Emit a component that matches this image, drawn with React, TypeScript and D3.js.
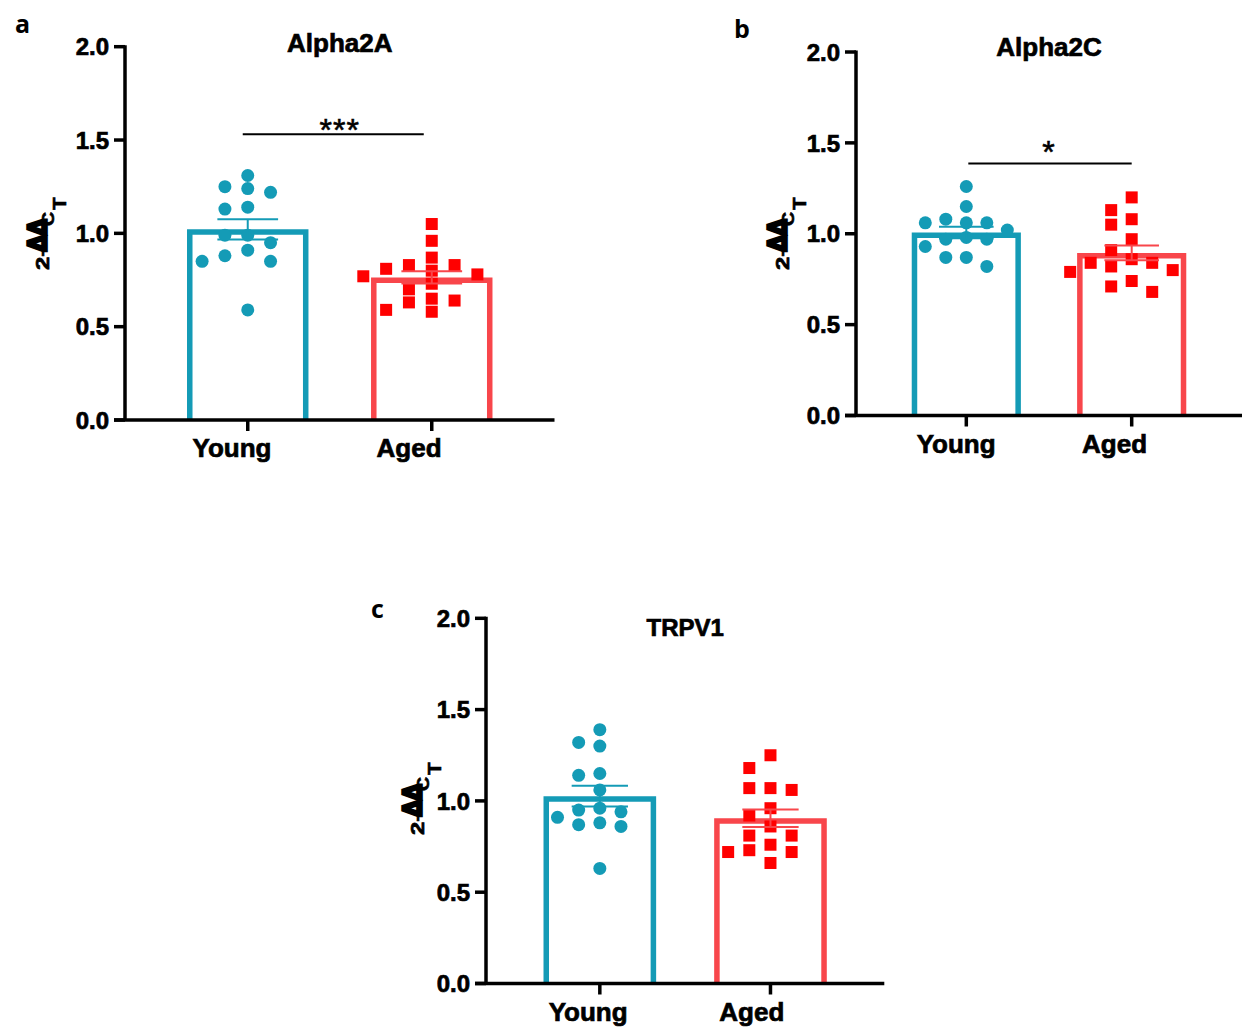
import React from 'react';
import * as d3 from 'd3';

// ---------- DATA ----------
const categories = ['Young', 'Aged'];
const yTicks = [0, 0.5, 1.0, 1.5, 2.0];

const alpha2aYoung = [1.31, 1.25, 1.24, 1.22, 1.13, 1.14, 0.99, 0.99, 0.95, 0.91, 0.85, 0.88, 0.85, 0.59];
const alpha2aAged = [1.05, 0.96, 0.87, 0.83, 0.83, 0.81, 0.80, 0.77, 0.78, 0.73, 0.70, 0.65, 0.64, 0.63, 0.58, 0.59];

const alpha2cYoung = [1.26, 1.15, 1.06, 1.06, 1.06, 1.08, 1.02, 0.97, 0.98, 0.97, 0.93, 0.87, 0.87, 0.82];
const alpha2cAged = [1.20, 1.13, 1.08, 1.05, 0.97, 0.91, 0.84, 0.86, 0.82, 0.84, 0.80, 0.79, 0.74, 0.71, 0.68];

const trpv1Young = [1.39, 1.30, 1.32, 1.14, 1.15, 1.06, 0.91, 0.94, 0.95, 0.96, 0.87, 0.86, 0.88, 0.63];
const trpv1Aged = [1.25, 1.18, 1.06, 1.07, 1.07, 0.96, 0.92, 0.86, 0.81, 0.81, 0.76, 0.72, 0.72, 0.73, 0.66];

const panelTitles = ['Alpha2A', 'Alpha2C', 'TRPV1'];
const panelLetters = ['a', 'b', 'c'];
const significance = ['***', '*', ''];

// ---------- STYLE / LAYOUT ----------
const TEAL = '#149bb6';
const RED_BAR = '#f8464b';
const RED_PT = '#ff0000';
const FONT = '"Liberation Sans", Arial, Helvetica, sans-serif';
const HEAVY = 0.7;

type Layout = {
  axisX: number; axisEnd: number; yTop: number; yBottom: number;
  letter: [number, number]; titleY: number; ylab: [number, number];
  sigY?: number; sigTextY?: number; sigDx?: [number, number]; titleSize: number;
};

const layouts: Layout[] = [
  { axisX: 125, axisEnd: 554.5, yTop: 46.7, yBottom: 420, letter: [15, 33], titleY: 52, ylab: [49, 270], sigY: 134.3, sigTextY: 141, sigDx: [-5, -8], titleSize: 26 },
  { axisX: 856, axisEnd: 1242, yTop: 52, yBottom: 415.5, letter: [734, 38], titleY: 56, ylab: [789, 270], sigY: 163.5, sigTextY: 162.5, sigDx: [2, 0], titleSize: 26 },
  { axisX: 486, axisEnd: 884.3, yTop: 618.3, yBottom: 983.5, letter: [371, 618], titleY: 636, ylab: [424, 835], titleSize: 24 },
];

const panelData = [
  [alpha2aYoung, alpha2aAged],
  [alpha2cYoung, alpha2cAged],
  [trpv1Young, trpv1Aged],
];

function swarm(values: number[], cx: number, y: (v: number) => number, h: number, size: number) {
  const order = values.map((_, i) => i).sort((a, b) => values[b] - values[a]);
  const placed: { x: number; y: number }[] = [];
  const out: { x: number; y: number }[] = new Array(values.length);
  for (const i of order) {
    const py = y(values[i]);
    let done = false;
    for (let k = 0; k < 30 && !done; k++) {
      const cands = k === 0 ? [0] : [-k, k];
      for (const c of cands) {
        const px = cx + c * h;
        const ok = placed.every(p => Math.abs(p.x - px) >= 2 * h - 0.5 || Math.abs(p.y - py) >= size);
        if (ok) { const pt = { x: px, y: py }; placed.push(pt); out[i] = pt; done = true; break; }
      }
    }
  }
  return out;
}

function YLabel({ x, y }: { x: number; y: number }) {
  return (
    <g transform={`translate(${x},${y}) rotate(-90)`} fontFamily={FONT} fontWeight="bold" fill="#000" stroke="#000">
      <text transform="translate(0,0) scale(1.25,1)" fontSize={19} strokeWidth={0.7}>2</text>
      <text transform="translate(13.5,-2) scale(1.1,1)" fontSize={16} strokeWidth={0.6}>-</text>
      <text transform="translate(18.5,-3) scale(0.9,1)" fontSize={25} strokeWidth={3.6} strokeLinejoin="miter">ΔΔ</text>
      <text transform="translate(44,5) scale(1.15,1)" fontSize={17} strokeWidth={0.6}>C</text>
      <text transform="translate(60,16.5) scale(1.1,1)" fontSize={19} strokeWidth={0.6}>T</text>
    </g>
  );
}

function Panel({ idx }: { idx: number }) {
  const L = layouts[idx];
  const groups = panelData[idx];
  const x = d3.scalePoint<string>().domain(categories).range([L.axisX, L.axisEnd]).padding(0.667);
  const y = d3.scaleLinear().domain([0, 2]).range([L.yBottom, L.yTop]);
  const step = x.step();
  const bw = 0.66 * step;
  const sw = 5.5;
  const h = 0.062 * step;
  const colors = [TEAL, RED_BAR];
  const ptColors = [TEAL, RED_PT];
  const cxs = categories.map(c => x(c) as number);
  const mid = (cxs[0] + cxs[1]) / 2;

  return (
    <g>
      {/* bars */}
      {groups.map((vals, gi) => {
        const m = d3.mean(vals) as number;
        const cx = cxs[gi];
        const x0 = cx - bw / 2 + sw / 2, x1 = cx + bw / 2 - sw / 2;
        const yt = y(m) + sw / 2;
        return (
          <path key={'b' + gi} d={`M${x0},${L.yBottom}V${yt}H${x1}V${L.yBottom}`} fill="#fff"
            stroke={colors[gi]} strokeWidth={sw} strokeLinejoin="miter" />
        );
      })}
      {/* points */}
      {groups.map((vals, gi) => {
        const pts = swarm(vals, cxs[gi], y, h, 13);
        return pts.map((p, pi) => gi === 0
          ? <circle key={`p${gi}-${pi}`} cx={p.x} cy={p.y} r={6.5} fill={ptColors[gi]} />
          : <rect key={`p${gi}-${pi}`} x={p.x - 6} y={p.y - 6} width={12} height={12} fill={ptColors[gi]} />);
      })}
      {/* error bars */}
      {groups.map((vals, gi) => {
        const m = d3.mean(vals) as number;
        const sem = (d3.deviation(vals) as number) / Math.sqrt(vals.length);
        const cx = cxs[gi];
        const cw = bw / 4;
        return (
          <g key={'e' + gi} stroke={colors[gi]} strokeWidth={2}>
            <line x1={cx} x2={cx} y1={y(m - sem)} y2={y(m + sem)} />
            <line x1={cx - cw} x2={cx + cw} y1={y(m + sem)} y2={y(m + sem)} />
            <line x1={cx - cw} x2={cx + cw} y1={y(m - sem)} y2={y(m - sem)} />
          </g>
        );
      })}
      {/* axes */}
      <g stroke="#000" strokeWidth={3.5}>
        <line x1={L.axisX} x2={L.axisX} y1={L.yTop - 1.5} y2={L.yBottom} />
        <line x1={L.axisX - 11} x2={L.axisEnd} y1={L.yBottom} y2={L.yBottom} />
        {yTicks.map(t => <line key={'yt' + t} x1={L.axisX - 11} x2={L.axisX} y1={y(t)} y2={y(t)} />)}
        {categories.map((c, ci) => <line key={'xt' + c} x1={cxs[ci]} x2={cxs[ci]} y1={L.yBottom} y2={L.yBottom + 11} />)}
      </g>
      {yTicks.map(t => (
        <text key={'yl' + t} x={L.axisX - 16} y={y(t)} dy="0.36em" textAnchor="end" fontFamily={FONT}
          fontWeight="bold" fontSize={24} fill="#000" stroke="#000" strokeWidth={HEAVY}>{t.toFixed(1)}</text>
      ))}
      {categories.map((c, ci) => (
        <text key={'xl' + c} x={cxs[ci] - 0.3 * step} y={L.yBottom + 37} textAnchor="start" fontFamily={FONT}
          fontWeight="bold" fontSize={26} fill="#000" stroke="#000" strokeWidth={HEAVY}>{c}</text>
      ))}
      {/* title */}
      <text x={mid} y={L.titleY} textAnchor="middle" fontFamily={FONT} fontWeight="bold" fontSize={L.titleSize}
        fill="#000" stroke="#000" strokeWidth={HEAVY}>{panelTitles[idx]}</text>
      {/* letter */}
      <text x={L.letter[0]} y={L.letter[1]} fontFamily='"Open Sans", "Noto Sans", sans-serif' fontWeight="bold" fontSize={25} fill="#000">{panelLetters[idx]}</text>
      {/* significance */}
      {significance[idx] && L.sigY !== undefined && (
        <g>
          <line x1={cxs[0] + (L.sigDx as number[])[0]} x2={cxs[1] + (L.sigDx as number[])[1]} y1={L.sigY} y2={L.sigY} stroke="#000" strokeWidth={2} />
          <text x={mid} y={L.sigTextY} textAnchor="middle" fontFamily={FONT} fontWeight="normal" fontSize={32}
            letterSpacing={1} fill="#000" stroke="#000" strokeWidth={0.6}>{significance[idx]}</text>
        </g>
      )}
      <YLabel x={L.ylab[0]} y={L.ylab[1]} />
    </g>
  );
}

export default function App() {
  return (
    <svg width={1247} height={1028} style={{ position: 'absolute', left: 0, top: 0, background: '#fff' }}
      xmlns="http://www.w3.org/2000/svg">
      <rect x={0} y={0} width={1247} height={1028} fill="#fff" />
      {[0, 1, 2].map(i => <Panel key={i} idx={i} />)}
    </svg>
  );
}
